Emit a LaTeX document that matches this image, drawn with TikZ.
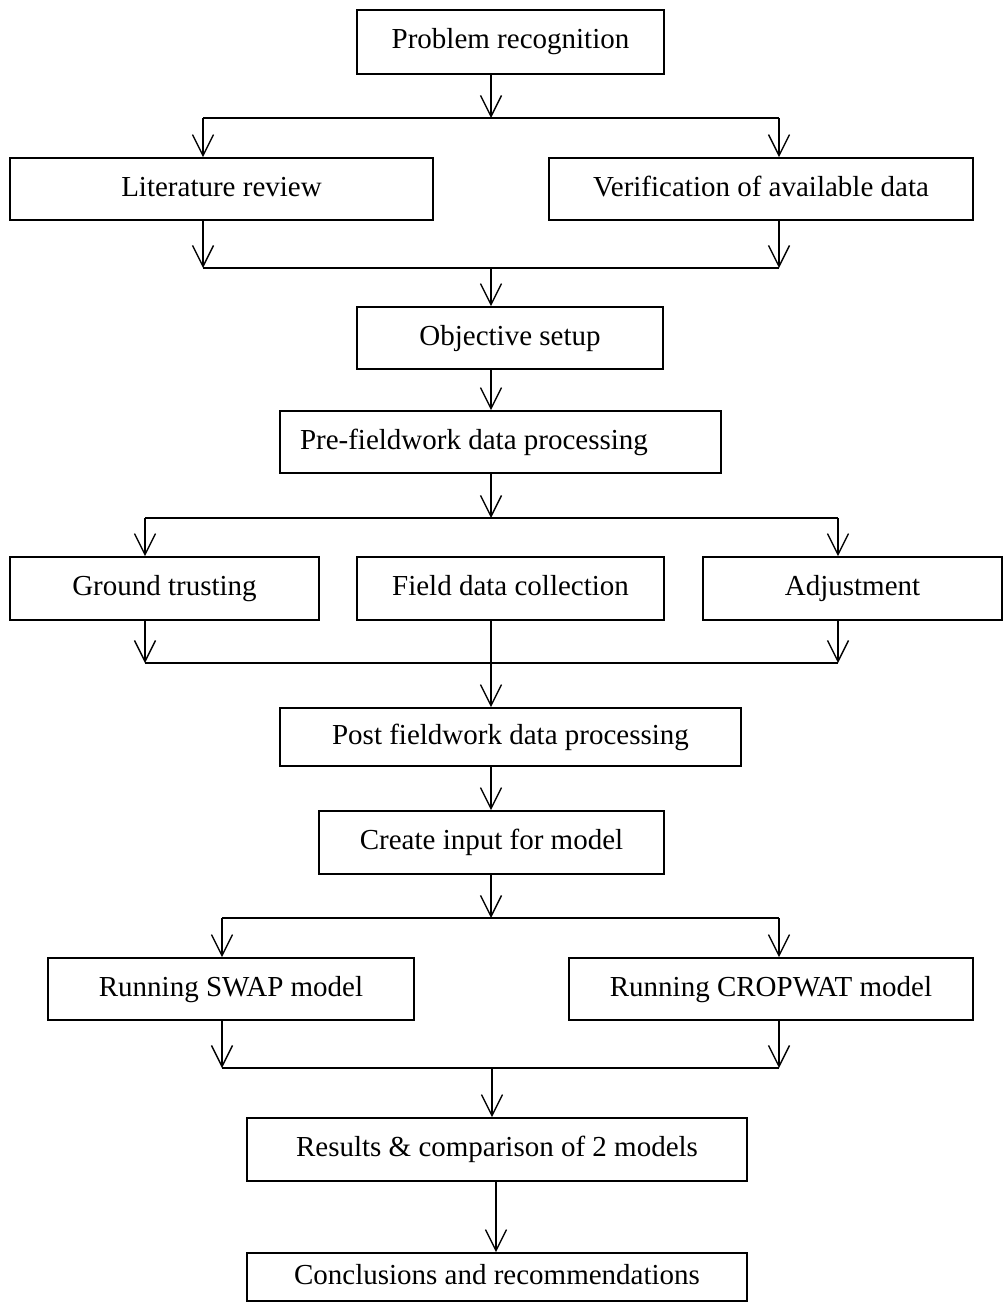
\documentclass[tikz,border=0pt]{standalone}
\usepackage{fontspec}
\setmainfont{Liberation Serif}
\usetikzlibrary{arrows.meta}
\begin{document}
\begin{tikzpicture}[x=1pt,y=-1pt,
  box/.style={draw, line width=1.7pt, inner sep=0pt, text height=20pt, text depth=6pt, font=\fontsize{29}{34}\selectfont},
  ln/.style={line width=1.4pt},
  arr/.style={line width=1.4pt, -{Straight Barb[length=21pt,width=21pt]}}]
\useasboundingbox (0,0) rectangle (1003,1311);
% boxes
\node[box, minimum width=307, minimum height=64] (b1) at (510.5,42) {Problem recognition};
\node[box, minimum width=423, minimum height=62] (lit) at (221.5,189) {Literature review};
\node[box, minimum width=424, minimum height=62] (ver) at (761,189) {Verification of available data};
\node[box, minimum width=306, minimum height=62] (obj) at (510,338) {Objective setup};
\node[box, minimum width=441, minimum height=62] (pre) at (500.5,442) {\makebox[401pt][l]{Pre-fieldwork data processing}};
\node[box, minimum width=309, minimum height=63] (gt) at (164.5,588.5) {Ground trusting};
\node[box, minimum width=307, minimum height=63] (fd) at (510.5,588.5) {Field data collection};
\node[box, minimum width=299, minimum height=63] (adj) at (852.5,588.5) {Adjustment};
\node[box, minimum width=461, minimum height=58] (post) at (510.5,737) {Post fieldwork data processing};
\node[box, minimum width=345, minimum height=63] (ci) at (491.5,842.5) {Create input for model};
\node[box, minimum width=366, minimum height=62] (swap) at (231,989) {Running SWAP model};
\node[box, minimum width=404, minimum height=62] (crop) at (771,989) {Running CROPWAT model};
\node[box, minimum width=500, minimum height=63] (res) at (497,1149.5) {Results \& comparison of 2 models};
\node[box, minimum width=500, minimum height=48] (con) at (497,1277) {Conclusions and recommendations};
% junctions
\coordinate (M1) at (491,118); \coordinate (L1) at (203,118); \coordinate (R1) at (779,118);
\coordinate (M2) at (491,268); \coordinate (L2) at (203,268); \coordinate (R2) at (779,268);
\coordinate (M3) at (491,518); \coordinate (L3) at (145,518); \coordinate (R3) at (838,518);
\coordinate (L4) at (145,663); \coordinate (R4) at (838,663);
\coordinate (M5) at (491,918); \coordinate (L5) at (222,918); \coordinate (R5) at (779,918);
\coordinate (M6) at (492,1068); \coordinate (L6) at (222,1068); \coordinate (R6) at (779,1068);
\coordinate (M7) at (496,1200);
% connectors
\draw[arr] (b1.south -| M1) -- (M1);
\draw[ln] (L1) -- (R1);
\draw[arr] (L1) -- (lit.north -| L1);
\draw[arr] (R1) -- (ver.north -| R1);
\draw[arr] (lit.south -| L2) -- (L2);
\draw[arr] (ver.south -| R2) -- (R2);
\draw[ln] (L2) -- (R2);
\draw[arr] (M2) -- (obj.north -| M2);
\draw[arr] (obj.south -| M2) -- (pre.north -| M2);
\draw[arr] (pre.south -| M3) -- (M3);
\draw[ln] (L3) -- (R3);
\draw[arr] (L3) -- (gt.north -| L3);
\draw[arr] (R3) -- (adj.north -| R3);
\draw[arr] (gt.south -| L4) -- (L4);
\draw[arr] (adj.south -| R4) -- (R4);
\draw[ln] (L4) -- (R4);
\draw[arr] (fd.south -| M3) -- (post.north -| M3);
\draw[arr] (post.south -| M5) -- (ci.north -| M5);
\draw[arr] (ci.south -| M5) -- (M5);
\draw[ln] (L5) -- (R5);
\draw[arr] (L5) -- (swap.north -| L5);
\draw[arr] (R5) -- (crop.north -| R5);
\draw[arr] (swap.south -| L6) -- (L6);
\draw[arr] (crop.south -| R6) -- (R6);
\draw[ln] (L6) -- (R6);
\draw[arr] (M6) -- (res.north -| M6);
\draw[arr] (res.south -| M7) -- (con.north -| M7);
\end{tikzpicture}
\end{document}
